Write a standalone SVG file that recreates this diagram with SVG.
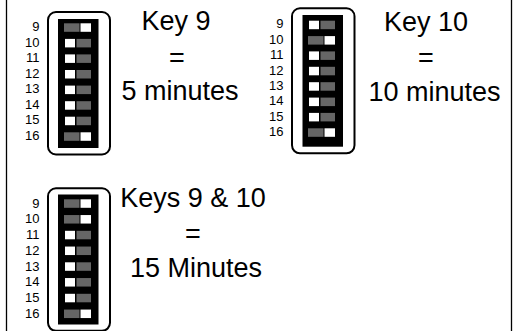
<svg xmlns="http://www.w3.org/2000/svg" width="513" height="331" viewBox="0 0 513 331">
<style>
.frame{stroke:#000;stroke-width:1.3;fill:none}
.case{fill:#fff;stroke:#000;stroke-width:2}
.body{fill:#000}
.g{fill:#666}
.w{fill:#fff}
.num{font-family:"Liberation Sans",Arial,sans-serif;font-size:13px;fill:#000;text-anchor:end}
.cap{font-family:"Liberation Sans",Arial,sans-serif;font-size:27px;fill:#000;text-anchor:middle}
</style>
<rect width="513" height="331" fill="#fff"/>
<g id="frame">
<line class="frame" x1="6.5" y1="0" x2="6.5" y2="331"/>
<line class="frame" x1="511.5" y1="0" x2="511.5" y2="331"/>
</g>
<g id="switch-key9">
<rect class="case" x="48" y="12" width="62" height="142.5" rx="8"/>
<rect class="body" x="58" y="19" width="40.5" height="129"/>
<rect class="g" x="64" y="23.3" width="15.5" height="8.5"/><rect class="w" x="80.5" y="23.3" width="10.5" height="8.5"/>
<rect class="w" x="65" y="38.9" width="10" height="8.5"/><rect class="g" x="76.5" y="38.9" width="14.5" height="8.5"/>
<rect class="w" x="65" y="54.4" width="10" height="8.5"/><rect class="g" x="76.5" y="54.4" width="14.5" height="8.5"/>
<rect class="w" x="65" y="70" width="10" height="8.5"/><rect class="g" x="76.5" y="70" width="14.5" height="8.5"/>
<rect class="w" x="65" y="85.6" width="10" height="8.5"/><rect class="g" x="76.5" y="85.6" width="14.5" height="8.5"/>
<rect class="w" x="65" y="101.2" width="10" height="8.5"/><rect class="g" x="76.5" y="101.2" width="14.5" height="8.5"/>
<rect class="w" x="65" y="116.7" width="10" height="8.5"/><rect class="g" x="76.5" y="116.7" width="14.5" height="8.5"/>
<rect class="g" x="64" y="132.3" width="15.5" height="8.5"/><rect class="w" x="80.5" y="132.3" width="10.5" height="8.5"/>
<text class="num" x="39.5" y="31">9</text>
<text class="num" x="39.5" y="46.6">10</text>
<text class="num" x="39.5" y="62.1">11</text>
<text class="num" x="39.5" y="77.7">12</text>
<text class="num" x="39.5" y="93.3">13</text>
<text class="num" x="39.5" y="108.9">14</text>
<text class="num" x="39.5" y="124.4">15</text>
<text class="num" x="39.5" y="140">16</text>
<text class="cap" x="176" y="30">Key 9</text>
<text class="cap" x="177" y="66.5">=</text>
<text class="cap" x="180" y="100">5 minutes</text>
</g>
<g id="switch-key10">
<rect class="case" x="292" y="8.3" width="62.5" height="145" rx="8"/>
<rect class="body" x="302.5" y="15" width="40.5" height="131.7"/>
<rect class="w" x="309" y="20.7" width="10" height="8.5"/><rect class="g" x="320.5" y="20.7" width="14.5" height="8.5"/>
<rect class="g" x="308" y="36.1" width="15.5" height="8.5"/><rect class="w" x="324.5" y="36.1" width="10.5" height="8.5"/>
<rect class="w" x="309" y="51.4" width="10" height="8.5"/><rect class="g" x="320.5" y="51.4" width="14.5" height="8.5"/>
<rect class="w" x="309" y="66.8" width="10" height="8.5"/><rect class="g" x="320.5" y="66.8" width="14.5" height="8.5"/>
<rect class="w" x="309" y="82.2" width="10" height="8.5"/><rect class="g" x="320.5" y="82.2" width="14.5" height="8.5"/>
<rect class="w" x="309" y="97.6" width="10" height="8.5"/><rect class="g" x="320.5" y="97.6" width="14.5" height="8.5"/>
<rect class="w" x="309" y="112.9" width="10" height="8.5"/><rect class="g" x="320.5" y="112.9" width="14.5" height="8.5"/>
<rect class="g" x="308" y="128.3" width="15.5" height="8.5"/><rect class="w" x="324.5" y="128.3" width="10.5" height="8.5"/>
<text class="num" x="283.5" y="28.4">9</text>
<text class="num" x="283.5" y="43.8">10</text>
<text class="num" x="283.5" y="59.1">11</text>
<text class="num" x="283.5" y="74.5">12</text>
<text class="num" x="283.5" y="89.9">13</text>
<text class="num" x="283.5" y="105.3">14</text>
<text class="num" x="283.5" y="120.6">15</text>
<text class="num" x="283.5" y="136">16</text>
<text class="cap" x="426" y="31">Key 10</text>
<text class="cap" x="426" y="66.5">=</text>
<text class="cap" x="434.5" y="101">10 minutes</text>
</g>
<g id="switch-keys9-10">
<rect class="case" x="48" y="188.3" width="62" height="142.5" rx="8"/>
<rect class="body" x="58" y="194.5" width="40.5" height="130"/>
<rect class="g" x="64" y="199.3" width="15.5" height="8.5"/><rect class="w" x="80.5" y="199.3" width="10.5" height="8.5"/>
<rect class="g" x="64" y="215.05" width="15.5" height="8.5"/><rect class="w" x="80.5" y="215.05" width="10.5" height="8.5"/>
<rect class="w" x="65" y="230.8" width="10" height="8.5"/><rect class="g" x="76.5" y="230.8" width="14.5" height="8.5"/>
<rect class="w" x="65" y="246.55" width="10" height="8.5"/><rect class="g" x="76.5" y="246.55" width="14.5" height="8.5"/>
<rect class="w" x="65" y="262.3" width="10" height="8.5"/><rect class="g" x="76.5" y="262.3" width="14.5" height="8.5"/>
<rect class="w" x="65" y="278.05" width="10" height="8.5"/><rect class="g" x="76.5" y="278.05" width="14.5" height="8.5"/>
<rect class="w" x="65" y="293.8" width="10" height="8.5"/><rect class="g" x="76.5" y="293.8" width="14.5" height="8.5"/>
<rect class="g" x="64" y="309.55" width="15.5" height="8.5"/><rect class="w" x="80.5" y="309.55" width="10.5" height="8.5"/>
<text class="num" x="39.5" y="207.5">9</text>
<text class="num" x="39.5" y="223.2">10</text>
<text class="num" x="39.5" y="239">11</text>
<text class="num" x="39.5" y="254.7">12</text>
<text class="num" x="39.5" y="270.5">13</text>
<text class="num" x="39.5" y="286.2">14</text>
<text class="num" x="39.5" y="302">15</text>
<text class="num" x="39.5" y="317.7">16</text>
<text class="cap" x="193" y="207.3">Keys 9 &amp; 10</text>
<text class="cap" x="193" y="243">=</text>
<text class="cap" x="196" y="277.3">15 Minutes</text>
</g>
</svg>
